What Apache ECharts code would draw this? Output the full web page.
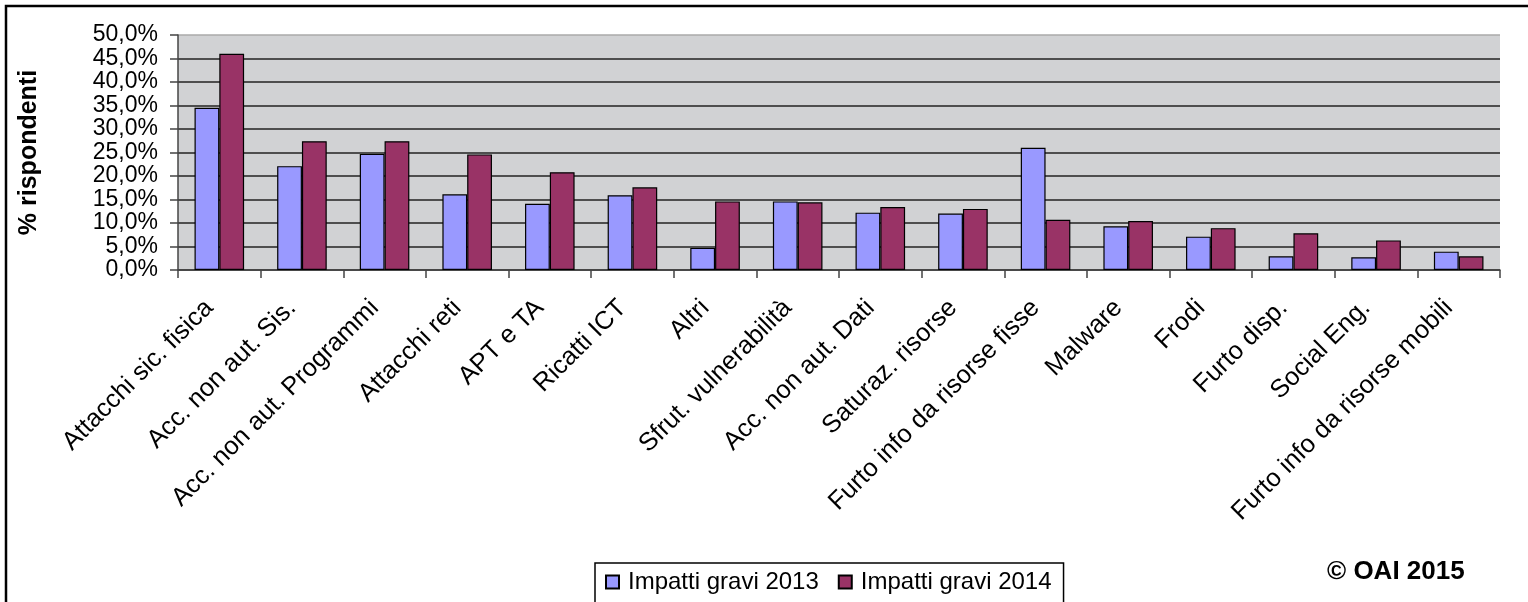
<!DOCTYPE html>
<html>
<head>
<meta charset="utf-8">
<script src="https://cdn.jsdelivr.net/npm/echarts@6/dist/echarts.min.js"></script>
<style>
  html, body { margin: 0; padding: 0; background: #fff; }
  #chart { width: 1528px; height: 602px; }
</style>
</head>
<body>
<div id="chart"></div>
<script>
const categories = [
  "Attacchi sic. fisica", "Acc. non aut. Sis.", "Acc. non aut. Programmi", "Attacchi reti",
  "APT e TA", "Ricatti ICT", "Altri", "Sfrut. vulnerabilità", "Acc. non aut. Dati",
  "Saturaz. risorse", "Furto info da risorse fisse", "Malware", "Frodi", "Furto disp.",
  "Social Eng.", "Furto info da risorse mobili"
];
const seriesNames = ["Impatti gravi 2013", "Impatti gravi 2014"];
const values2013 = [34.5, 22.1, 24.7, 16.1, 14.1, 15.9, 4.7, 14.6, 12.2, 12.0, 26.0, 9.3, 7.1, 2.9, 2.7, 3.9];
const values2014 = [46.0, 27.4, 27.4, 24.6, 20.8, 17.6, 14.6, 14.4, 13.4, 13.0, 10.7, 10.4, 8.9, 7.8, 6.3, 2.9];
const yAxisName = "% rispondenti";
const copyrightText = "© OAI 2015";

const FONT = "'Liberation Sans', Arial, sans-serif";
const chart = echarts.init(document.getElementById('chart'), null, { renderer: 'canvas' });

const gridColors = ['#222', '#222', '#222', '#222', '#222', '#222', '#222', '#222', '#222', '#222', '#aaa'];

chart.setOption({
  backgroundColor: '#ffffff',
  animation: false,
  textStyle: { fontFamily: FONT, color: '#000' },
  grid: {
    left: 178, right: 28, top: 35, bottom: 332,
    show: true, backgroundColor: '#d1d2d4', borderWidth: 0
  },
  legend: {
    data: seriesNames,
    left: 595, top: 563,
    orient: 'horizontal',
    icon: 'rect',
    itemWidth: 13, itemHeight: 13,
    itemGap: 19,
    padding: [7, 12, 14, 10],
    borderColor: '#000', borderWidth: 1.5,
    backgroundColor: '#fff',
    textStyle: { fontFamily: FONT, fontSize: 24, color: '#000', padding: [0, 0, 0, 4] }
  },
  xAxis: {
    type: 'category',
    data: categories,
    boundaryGap: true,
    axisLine: { show: true, lineStyle: { color: '#444', width: 1.5 } },
    axisTick: { show: true, length: 8, lineStyle: { color: '#444', width: 1.5 } },
    axisLabel: {
      interval: 0, rotate: 45, margin: 24,
      padding: [0, 14, 0, 0],
      fontFamily: FONT, fontSize: 25.5, color: '#000'
    }
  },
  yAxis: {
    type: 'value',
    min: 0, max: 50, interval: 5,
    name: yAxisName,
    nameLocation: 'middle',
    nameGap: 136,
    nameRotate: 90,
    nameTextStyle: { fontFamily: FONT, fontSize: 25, fontWeight: 'bold', color: '#000' },
    axisLine: { show: true, lineStyle: { color: '#444', width: 1.5 } },
    axisTick: { show: true, length: 8, lineStyle: { color: '#444', width: 1.5 } },
    splitLine: { show: true, lineStyle: { color: gridColors, width: 1.5 } },
    axisLabel: {
      margin: 20, fontFamily: FONT, fontSize: 23, color: '#000',
      showMinLabel: true, showMaxLabel: true, hideOverlap: false,
      formatter: v => v.toFixed(1).replace('.', ',') + '%'
    }
  },
  series: [
    {
      name: seriesNames[0], type: 'bar', data: values2013,
      barGap: '0%', barCategoryGap: '40%',
      itemStyle: { color: '#9999ff', borderColor: '#000', borderWidth: 1.2 }
    },
    {
      name: seriesNames[1], type: 'bar', data: values2014,
      barGap: '0%', barCategoryGap: '40%',
      itemStyle: { color: '#993366', borderColor: '#000', borderWidth: 1.2 }
    }
  ],
  graphic: [
    {
      type: 'rect', silent: true, z: 100,
      shape: { x: 6, y: 6, width: 1700, height: 800 },
      style: { fill: 'none', stroke: '#000', lineWidth: 2.5 }
    },
    {
      type: 'text', left: 1327, top: 559, z: 100,
      style: { text: copyrightText, fontFamily: FONT, fontSize: 26, fontWeight: 'bold', fill: '#000' }
    }
  ]
});
</script>
</body>
</html>
